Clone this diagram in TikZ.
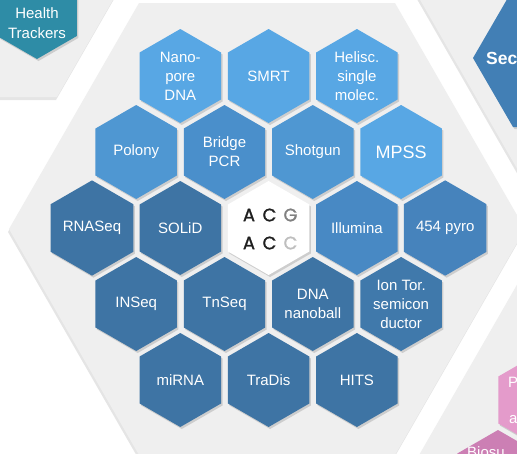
\documentclass[tikz,border=0pt]{standalone}
\usepackage{fontspec}
\setmainfont{Liberation Sans}
\newfontfamily\acgfont[FakeBold=1.3]{Poppins}
\usepackage{tikz}
\usetikzlibrary{shapes.geometric,shadows}

\definecolor{panel}{RGB}{239,239,239}
\definecolor{hexA}{RGB}{88,167,228}
\definecolor{hexB}{RGB}{79,151,210}
\definecolor{hexC}{RGB}{74,143,203}
\definecolor{hexD}{RGB}{72,137,196}
\definecolor{hexE}{RGB}{70,131,188}
\definecolor{hexF}{RGB}{64,121,171}
\definecolor{hexG}{RGB}{62,116,164}
\definecolor{teal}{RGB}{46,140,166}
\definecolor{secblue}{RGB}{66,127,181}
\definecolor{pinkA}{RGB}{228,155,203}
\definecolor{pinkB}{RGB}{204,127,180}
\definecolor{baseG}{RGB}{128,128,128}
\definecolor{baseC}{RGB}{190,190,190}

\begin{document}
\begin{tikzpicture}[x=1pt,y=-1pt]
  \tikzstyle{panel}=[fill=panel, drop shadow={shadow xshift=-1pt, shadow yshift=-3pt, opacity=0.2}]
  \tikzstyle{hex}=[regular polygon, regular polygon sides=6, shape border rotate=30,
    minimum size=94pt, inner sep=0pt, draw=none, text=white, align=center,
    font=\fontsize{15}{19}\selectfont,
    drop shadow={shadow xshift=1.5pt, shadow yshift=-2pt, opacity=0.3}]
  \tikzstyle{base}=[font=\acgfont\fontsize{18}{18}\selectfont, inner sep=0pt, text=black!88]

  \useasboundingbox (0,0) rectangle (517,453);
  \clip (0,0) rectangle (517,453);
  \fill[white] (0,0) rectangle (517,453);

  % grey panels
  \path[panel] (-20,97) -- (57,97) -- (187,-129) -- (-20,-129) -- cycle;
  \path[panel] (380,-70) -- (550,226) -- (700,226) -- (700,-70) -- cycle;
  \path[panel] (399,490) -- (549,229) -- (700,229) -- (700,490) -- cycle;
  \path[panel] (9,229) -- (139,3) -- (395,3) -- (525,229) -- (395,455) -- (139,455) -- cycle;

  % neighbours
  \node[hex, minimum size=92pt, fill=teal] (health) at (37,13) {};
  \node[text=white, font=\fontsize{15}{20}\selectfont, align=center] (healthtxt) at (37,23) {Health\\Trackers};
  \path[fill=secblue, drop shadow={shadow xshift=1.5pt, shadow yshift=-2pt, opacity=0.3}]
    (473,58) -- (513,-11) -- (600,-11) -- (600,127) -- (513,127) -- cycle;
  \node[anchor=west, text=white, font=\fontsize{17.5}{18}\selectfont\bfseries, inner sep=0pt] (sec) at (486,58) {Sec};
  \node[hex, fill=pinkA] (pinkhex) at (539,400) {};
  \node[anchor=west, text=white, inner sep=0pt, font=\fontsize{15}{15}\selectfont] (ptxt) at (508,382) {P};
  \node[anchor=west, text=white, inner sep=0pt, font=\fontsize{15}{15}\selectfont] (atxt) at (509,420) {a};
  \node[hex, fill=pinkB] (biohex) at (498,477) {};
  \node[anchor=base west, text=white, inner sep=0pt, font=\fontsize{15}{15}\selectfont] (biotxt) at (467,457) {Biosu};

  % sequencing honeycomb
  \node[hex, fill=hexA] (nanopore) at (180.3,76) {Nano-\\pore\\DNA};
  \node[hex, fill=hexA] (smrt) at (268.6,76) {SMRT};
  \node[hex, fill=hexA] (helisc) at (356.9,76) {Helisc.\\single\\molec.};

  \node[hex, fill=hexB] (polony) at (136.2,152) {Polony};
  \node[hex, fill=hexC] (bridge) at (224.5,152) {Bridge\\PCR};
  \node[hex, fill=hexB] (shotgun) at (312.8,152) {Shotgun};
  \node[hex, fill=hexA, font=\fontsize{18}{18}\selectfont] (mpss) at (401.1,152) {MPSS};

  \node[hex, fill=hexG] (rnaseq) at (92,228) {RNASeq};
  \node[hex, fill=hexG] (solid) at (180.3,228) {SOLiD};
  \node[hex, fill=white] (acg) at (268.6,228) {};
  \node[hex, fill=hexD] (illumina) at (356.9,228) {Illumina};
  \node[hex, fill=hexE] (pyro) at (445.2,228) {454 pyro};

  \node[hex, fill=hexG] (inseq) at (136.2,304) {INSeq};
  \node[hex, fill=hexG] (tnseq) at (224.5,304) {TnSeq};
  \node[hex, fill=hexG] (nanoball) at (312.8,304) {DNA\\nanoball};
  \node[hex, fill=hexF] (iontor) at (401.1,304) {Ion Tor.\\semicon\\ductor};

  \node[hex, fill=hexG] (mirna) at (180.3,380) {miRNA};
  \node[hex, fill=hexG] (tradis) at (268.6,380) {TraDis};
  \node[hex, fill=hexG] (hits) at (356.9,380) {HITS};

  % bases in the middle cell
  \node[base] (a1) at (249,215) {A};
  \node[base] (c1) at (269.5,215) {C};
  \node[base, text=baseG] (g1) at (290.5,215) {G};
  \node[base] (a2) at (249,243) {A};
  \node[base] (c2) at (269.5,243) {C};
  \node[base, text=baseC] (c3) at (290.5,243) {C};
\end{tikzpicture}
\end{document}
